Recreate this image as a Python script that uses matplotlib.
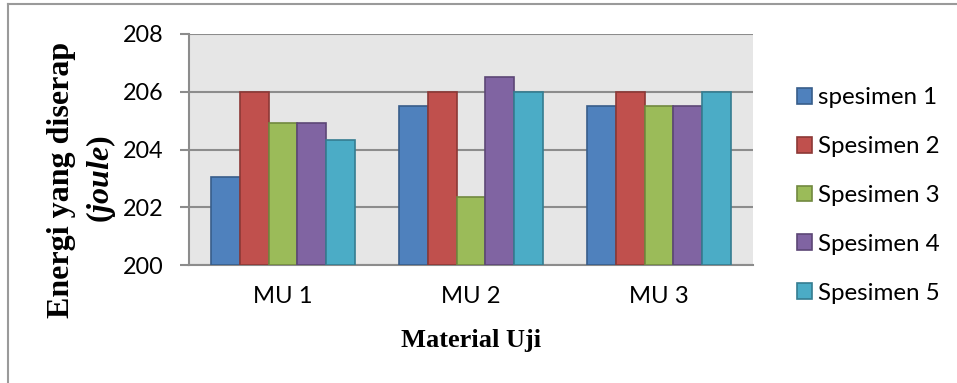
import matplotlib.pyplot as plt
import numpy as np
from matplotlib.lines import Line2D

plt.rcParams['mathtext.fontset'] = 'custom'
plt.rcParams['mathtext.it'] = 'Liberation Serif:italic:bold'
plt.rcParams['mathtext.rm'] = 'Liberation Serif:bold'

materials = ['MU 1', 'MU 2', 'MU 3']
series_names = ['spesimen 1', 'Spesimen 2', 'Spesimen 3', 'Spesimen 4', 'Spesimen 5']
spesimen_1 = [203.06, 205.5, 205.5]
spesimen_2 = [206.0, 206.0, 206.0]
spesimen_3 = [204.92, 202.37, 205.5]
spesimen_4 = [204.92, 206.5, 205.5]
spesimen_5 = [204.32, 206.0, 206.0]
y_ticks = [200, 202, 204, 206, 208]

colors = ['#4f81bd', '#c0504d', '#9bbb59', '#8064a2', '#4bacc6']
edges = ['#385d8a', '#8c3836', '#71893f', '#5c4776', '#357d91']

fig = plt.figure(figsize=(9.57, 3.83), dpi=100)
ax = fig.add_axes([189/957, 1-265/383, (753-189)/957, (265-34)/383])
ax.set_facecolor('#e6e6e6')

x = np.arange(len(materials))
w = 1 / 6.5  # five bars plus a 150% gap per category
all_series = [spesimen_1, spesimen_2, spesimen_3, spesimen_4, spesimen_5]
for i, vals in enumerate(all_series):
    ax.bar(x + (i - 2) * w, np.array(vals) - 200, width=w, bottom=200,
           color=colors[i], edgecolor=edges[i], linewidth=1.2,
           label=series_names[i], zorder=3)

ax.set_xlim(-0.5, 2.5)
ax.set_ylim(200, 208)
ax.set_yticks(y_ticks)
ax.set_xticks(x)
ax.set_xticklabels(materials)
ax.yaxis.grid(True, color='#8c8c8c', linewidth=1.5, zorder=1)
ax.set_axisbelow(True)

for s in ['top', 'right']:
    ax.spines[s].set_visible(False)
for s in ['left', 'bottom']:
    ax.spines[s].set_color('#8c8c8c')
    ax.spines[s].set_linewidth(1.5)

ax.tick_params(axis='y', length=6.5, width=1.5, color='#8c8c8c', pad=12,
               labelsize=16.8)
ax.tick_params(axis='x', length=0, pad=15, labelsize=17.2)
for lab in ax.get_xticklabels() + ax.get_yticklabels():
    lab.set_fontfamily('Lato')

fig.text(62/957, 1-180/383, 'Energi yang diserap', rotation=90,
         ha='center', va='center', family='Liberation Serif',
         fontweight='bold', fontsize=23)
fig.text(101/957, 1-179/383, '($\\mathit{joule}$)', rotation=90,
         ha='center', va='center', family='Liberation Serif',
         fontweight='bold', fontsize=23)
fig.text(471/957, 1-340/383, 'Material Uji', ha='center', va='center',
         family='Liberation Serif', fontweight='bold', fontsize=19)

leg = fig.legend(loc='center left', bbox_to_anchor=(797/957, 1-195.5/383),
                 frameon=False, borderpad=0, borderaxespad=0,
                 handlelength=0.62, handleheight=0.62, handletextpad=0.25,
                 labelspacing=1.15, prop={'family': 'Lato', 'size': 17.4})

# outer chart border
fig.add_artist(Line2D([8/957, 1], [1-4/383, 1-4/383], color='#9a9a9a',
                      linewidth=1.5, transform=fig.transFigure))
fig.add_artist(Line2D([8/957, 8/957], [0, 1-4/383], color='#9a9a9a',
                      linewidth=1.5, transform=fig.transFigure))

fig.savefig('out.png', dpi=100)
